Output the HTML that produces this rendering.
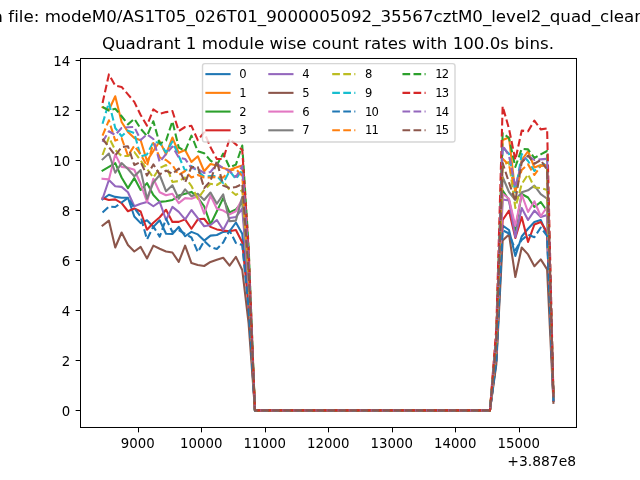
<!DOCTYPE html>
<html lang="en"><head><meta charset="utf-8"><title>Quadrant 1 module wise count rates</title>
<style>html,body{margin:0;padding:0;background:#fff;overflow:hidden}svg{display:block}text{font-variant-ligatures:none;font-kerning:none}</style>
</head><body>
<svg width="640" height="480" viewBox="0 0 460.8 345.6">
 <defs>
  <style type="text/css">*{stroke-linejoin: round; stroke-linecap: butt}</style>
 </defs>
 <g id="figure_1">
  <g id="patch_1">
   <path d="M 0 345.6 L 460.8 345.6 L 460.8 0 L 0 0 z
" style="fill: #ffffff"/>
  </g>
  <g id="axes_1">
   <g id="patch_2">
    <path d="M 57.6 307.584 L 414.72 307.584 L 414.72 41.472 L 57.6 41.472 z
" style="fill: #ffffff"/>
   </g>
   <g id="matplotlib.axis_1">
    <g id="xtick_1">
     <g id="line2d_1">
      <defs>
       <path id="mb68231066a" d="M 0 0 L 0 3.5" style="stroke: #000000; stroke-width: 0.72"/>
      </defs>
      <g>
       <use href="#mb68231066a" x="99.72" y="307.8" style="stroke: #000000; stroke-width: 0.72"/>
      </g>
     </g>
     <g id="text_1">
      <text style="font-size: 10px; font-family: 'DejaVu Sans', 'Liberation Sans', sans-serif; text-anchor: middle" x="99.1649" y="322.9024" transform="translate(99.1649 0) scale(0.96 1) translate(-99.1649 0)">9000</text>
     </g>
    </g>
    <g id="xtick_2">
     <g id="line2d_2">
      <g>
       <use href="#mb68231066a" x="145.08" y="307.8" style="stroke: #000000; stroke-width: 0.72"/>
      </g>
     </g>
     <g id="text_2">
      <text style="font-size: 10px; font-family: 'DejaVu Sans', 'Liberation Sans', sans-serif; text-anchor: middle" x="144.8909" y="322.9024" transform="translate(144.8909 0) scale(0.96 1) translate(-144.8909 0)">10000</text>
     </g>
    </g>
    <g id="xtick_3">
     <g id="line2d_3">
      <g>
       <use href="#mb68231066a" x="191.16" y="307.8" style="stroke: #000000; stroke-width: 0.72"/>
      </g>
     </g>
     <g id="text_3">
      <text style="font-size: 10px; font-family: 'DejaVu Sans', 'Liberation Sans', sans-serif; text-anchor: middle" x="190.6169" y="322.9024" transform="translate(190.6169 0) scale(0.96 1) translate(-190.6169 0)">11000</text>
     </g>
    </g>
    <g id="xtick_4">
     <g id="line2d_4">
      <g>
       <use href="#mb68231066a" x="236.52" y="307.8" style="stroke: #000000; stroke-width: 0.72"/>
      </g>
     </g>
     <g id="text_4">
      <text style="font-size: 10px; font-family: 'DejaVu Sans', 'Liberation Sans', sans-serif; text-anchor: middle" x="236.3429" y="322.9024" transform="translate(236.3429 0) scale(0.96 1) translate(-236.3429 0)">12000</text>
     </g>
    </g>
    <g id="xtick_5">
     <g id="line2d_5">
      <g>
       <use href="#mb68231066a" x="282.6" y="307.8" style="stroke: #000000; stroke-width: 0.72"/>
      </g>
     </g>
     <g id="text_5">
      <text style="font-size: 10px; font-family: 'DejaVu Sans', 'Liberation Sans', sans-serif; text-anchor: middle" x="282.0689" y="322.9024" transform="translate(282.0689 0) scale(0.96 1) translate(-282.0689 0)">13000</text>
     </g>
    </g>
    <g id="xtick_6">
     <g id="line2d_6">
      <g>
       <use href="#mb68231066a" x="327.96" y="307.8" style="stroke: #000000; stroke-width: 0.72"/>
      </g>
     </g>
     <g id="text_6">
      <text style="font-size: 10px; font-family: 'DejaVu Sans', 'Liberation Sans', sans-serif; text-anchor: middle" x="327.7949" y="322.9024" transform="translate(327.7949 0) scale(0.96 1) translate(-327.7949 0)">14000</text>
     </g>
    </g>
    <g id="xtick_7">
     <g id="line2d_7">
      <g>
       <use href="#mb68231066a" x="374.04" y="307.8" style="stroke: #000000; stroke-width: 0.72"/>
      </g>
     </g>
     <g id="text_7">
      <text style="font-size: 10px; font-family: 'DejaVu Sans', 'Liberation Sans', sans-serif; text-anchor: middle" x="373.5209" y="322.9024" transform="translate(373.5209 0) scale(0.96 1) translate(-373.5209 0)">15000</text>
     </g>
    </g>
    <g id="text_8">
     <text style="font-size: 10px; font-family: 'DejaVu Sans', 'Liberation Sans', sans-serif; text-anchor: end" x="414.72" y="335.5806">+3.887e8</text>
    </g>
   </g>
   <g id="matplotlib.axis_2">
    <g id="ytick_1">
     <g id="line2d_8">
      <defs>
       <path id="mc53986a767" d="M 0 0 L -3.5 0" style="stroke: #000000; stroke-width: 0.72"/>
      </defs>
      <g>
       <use href="#mc53986a767" x="57.96" y="295.56" style="stroke: #000000; stroke-width: 0.72"/>
      </g>
     </g>
     <g id="text_9">
      <text style="font-size: 10px; font-family: 'DejaVu Sans', 'Liberation Sans', sans-serif; text-anchor: end" x="50.6" y="299.2872" transform="translate(50.6 0) scale(0.96 1) translate(-50.6 0)">0</text>
     </g>
    </g>
    <g id="ytick_2">
     <g id="line2d_9">
      <g>
       <use href="#mc53986a767" x="57.96" y="259.56" style="stroke: #000000; stroke-width: 0.72"/>
      </g>
     </g>
     <g id="text_10">
      <text style="font-size: 10px; font-family: 'DejaVu Sans', 'Liberation Sans', sans-serif; text-anchor: end" x="50.6" y="263.2872" transform="translate(50.6 0) scale(0.96 1) translate(-50.6 0)">2</text>
     </g>
    </g>
    <g id="ytick_3">
     <g id="line2d_10">
      <g>
       <use href="#mc53986a767" x="57.96" y="223.56" style="stroke: #000000; stroke-width: 0.72"/>
      </g>
     </g>
     <g id="text_11">
      <text style="font-size: 10px; font-family: 'DejaVu Sans', 'Liberation Sans', sans-serif; text-anchor: end" x="50.6" y="227.2872" transform="translate(50.6 0) scale(0.96 1) translate(-50.6 0)">4</text>
     </g>
    </g>
    <g id="ytick_4">
     <g id="line2d_11">
      <g>
       <use href="#mc53986a767" x="57.96" y="187.56" style="stroke: #000000; stroke-width: 0.72"/>
      </g>
     </g>
     <g id="text_12">
      <text style="font-size: 10px; font-family: 'DejaVu Sans', 'Liberation Sans', sans-serif; text-anchor: end" x="50.6" y="191.2872" transform="translate(50.6 0) scale(0.96 1) translate(-50.6 0)">6</text>
     </g>
    </g>
    <g id="ytick_5">
     <g id="line2d_12">
      <g>
       <use href="#mc53986a767" x="57.96" y="151.56" style="stroke: #000000; stroke-width: 0.72"/>
      </g>
     </g>
     <g id="text_13">
      <text style="font-size: 10px; font-family: 'DejaVu Sans', 'Liberation Sans', sans-serif; text-anchor: end" x="50.6" y="155.2872" transform="translate(50.6 0) scale(0.96 1) translate(-50.6 0)">8</text>
     </g>
    </g>
    <g id="ytick_6">
     <g id="line2d_13">
      <g>
       <use href="#mc53986a767" x="57.96" y="115.56" style="stroke: #000000; stroke-width: 0.72"/>
      </g>
     </g>
     <g id="text_14">
      <text style="font-size: 10px; font-family: 'DejaVu Sans', 'Liberation Sans', sans-serif; text-anchor: end" x="50.6" y="119.2872" transform="translate(50.6 0) scale(0.96 1) translate(-50.6 0)">10</text>
     </g>
    </g>
    <g id="ytick_7">
     <g id="line2d_14">
      <g>
       <use href="#mc53986a767" x="57.96" y="79.56" style="stroke: #000000; stroke-width: 0.72"/>
      </g>
     </g>
     <g id="text_15">
      <text style="font-size: 10px; font-family: 'DejaVu Sans', 'Liberation Sans', sans-serif; text-anchor: end" x="50.6" y="83.2872" transform="translate(50.6 0) scale(0.96 1) translate(-50.6 0)">12</text>
     </g>
    </g>
    <g id="ytick_8">
     <g id="line2d_15">
      <g>
       <use href="#mc53986a767" x="57.96" y="43.56" style="stroke: #000000; stroke-width: 0.72"/>
      </g>
     </g>
     <g id="text_16">
      <text style="font-size: 10px; font-family: 'DejaVu Sans', 'Liberation Sans', sans-serif; text-anchor: end" x="50.6" y="47.2872" transform="translate(50.6 0) scale(0.96 1) translate(-50.6 0)">14</text>
     </g>
    </g>
   </g>
   <g id="line2d_16">
    <path d="M 73.832727 143.568 L 78.405327 140.22 L 82.977926 141.768 L 87.550525 142.38 L 92.123124 142.38 L 96.695723 155.88 L 101.268323 160.632 L 105.840922 158.58 L 110.413521 163.368 L 114.98612 158.58 L 119.55872 168.3 L 124.131319 168.48 L 128.703918 163.368 L 133.276517 170.1 L 137.849117 166.968 L 142.421716 168.768 L 146.994315 173.232 L 151.566914 169.632 L 156.139513 169.2 L 160.712113 166.968 L 165.284712 166.5 L 169.857311 160.2 L 174.42991 168.3 L 179.00251 216.63144 L 183.575109 295.488 L 188.147708 295.488 L 192.720307 295.488 L 197.292907 295.488 L 201.865506 295.488 L 206.438105 295.488 L 211.010704 295.488 L 215.583303 295.488 L 220.155903 295.488 L 224.728502 295.488 L 229.301101 295.488 L 233.8737 295.488 L 238.4463 295.488 L 243.018899 295.488 L 247.591498 295.488 L 252.164097 295.488 L 256.736697 295.488 L 261.309296 295.488 L 265.881895 295.488 L 270.454494 295.488 L 275.027093 295.488 L 279.599693 295.488 L 284.172292 295.488 L 288.744891 295.488 L 293.31749 295.488 L 297.89009 295.488 L 302.462689 295.488 L 307.035288 295.488 L 311.607887 295.488 L 316.180487 295.488 L 320.753086 295.488 L 325.325685 295.488 L 329.898284 295.488 L 334.470883 295.488 L 339.043483 295.488 L 343.616082 295.488 L 348.188681 295.488 L 352.76128 295.488 L 357.33388 259.56288 L 361.906479 162.432 L 366.479078 165.6 L 371.051677 184.32 L 375.624277 170.28 L 380.196876 164.7 L 384.769475 159.84 L 389.342074 158.4 L 393.914673 169.2 L 398.487273 288.668448" clip-path="url(#p99c22ce8b8)" style="fill: none; stroke: #1f77b4; stroke-width: 1.5; stroke-linecap: square"/>
   </g>
   <g id="line2d_17">
    <path d="M 73.832727 77.22 L 78.405327 79.2 L 82.977926 69.3 L 87.550525 87.84 L 92.123124 94.968 L 96.695723 99.36 L 101.268323 101.016 L 105.840922 115.92 L 110.413521 108.72 L 114.98612 101.7 L 119.55872 111.168 L 124.131319 99 L 128.703918 110.016 L 133.276517 108 L 137.849117 116.568 L 142.421716 112.5 L 146.994315 123.3 L 151.566914 118.08 L 156.139513 119.232 L 160.712113 120.96 L 165.284712 122.4 L 169.857311 120.6 L 174.42991 119.232 L 179.00251 186.20928 L 183.575109 295.488 L 188.147708 295.488 L 192.720307 295.488 L 197.292907 295.488 L 201.865506 295.488 L 206.438105 295.488 L 211.010704 295.488 L 215.583303 295.488 L 220.155903 295.488 L 224.728502 295.488 L 229.301101 295.488 L 233.8737 295.488 L 238.4463 295.488 L 243.018899 295.488 L 247.591498 295.488 L 252.164097 295.488 L 256.736697 295.488 L 261.309296 295.488 L 265.881895 295.488 L 270.454494 295.488 L 275.027093 295.488 L 279.599693 295.488 L 284.172292 295.488 L 288.744891 295.488 L 293.31749 295.488 L 297.89009 295.488 L 302.462689 295.488 L 307.035288 295.488 L 311.607887 295.488 L 316.180487 295.488 L 320.753086 295.488 L 325.325685 295.488 L 329.898284 295.488 L 334.470883 295.488 L 339.043483 295.488 L 343.616082 295.488 L 348.188681 295.488 L 352.76128 295.488 L 357.33388 242.92224 L 361.906479 100.8 L 366.479078 99 L 371.051677 138.6 L 375.624277 115.2 L 380.196876 108.9 L 384.769475 120.6 L 389.342074 118.8 L 393.914673 119.52 L 398.487273 285.985728" clip-path="url(#p99c22ce8b8)" style="fill: none; stroke: #ff7f0e; stroke-width: 1.5; stroke-linecap: square"/>
   </g>
   <g id="line2d_18">
    <path d="M 73.832727 122.832 L 78.405327 120.168 L 82.977926 117.432 L 87.550525 127.8 L 92.123124 135.432 L 96.695723 128.232 L 101.268323 136.8 L 105.840922 131.832 L 110.413521 140.4 L 114.98612 145.368 L 119.55872 144.9 L 124.131319 144 L 128.703918 140.832 L 133.276517 139.5 L 137.849117 138.168 L 142.421716 142.2 L 146.994315 148.5 L 151.566914 161.568 L 156.139513 152.1 L 160.712113 142.632 L 165.284712 153 L 169.857311 150.768 L 174.42991 145.44 L 179.00251 202.45824 L 183.575109 295.488 L 188.147708 295.488 L 192.720307 295.488 L 197.292907 295.488 L 201.865506 295.488 L 206.438105 295.488 L 211.010704 295.488 L 215.583303 295.488 L 220.155903 295.488 L 224.728502 295.488 L 229.301101 295.488 L 233.8737 295.488 L 238.4463 295.488 L 243.018899 295.488 L 247.591498 295.488 L 252.164097 295.488 L 256.736697 295.488 L 261.309296 295.488 L 265.881895 295.488 L 270.454494 295.488 L 275.027093 295.488 L 279.599693 295.488 L 284.172292 295.488 L 288.744891 295.488 L 293.31749 295.488 L 297.89009 295.488 L 302.462689 295.488 L 307.035288 295.488 L 311.607887 295.488 L 316.180487 295.488 L 320.753086 295.488 L 325.325685 295.488 L 329.898284 295.488 L 334.470883 295.488 L 339.043483 295.488 L 343.616082 295.488 L 348.188681 295.488 L 352.76128 295.488 L 357.33388 252.75888 L 361.906479 137.232 L 366.479078 144 L 371.051677 165.6 L 375.624277 139.68 L 380.196876 142.2 L 384.769475 149.04 L 389.342074 145.44 L 393.914673 151.92 L 398.487273 287.735328" clip-path="url(#p99c22ce8b8)" style="fill: none; stroke: #2ca02c; stroke-width: 1.5; stroke-linecap: square"/>
   </g>
   <g id="line2d_19">
    <path d="M 73.832727 142.632 L 78.405327 144 L 82.977926 143.568 L 87.550525 146.232 L 92.123124 152.1 L 96.695723 150.12 L 101.268323 152.28 L 105.840922 165.42 L 110.413521 160.38 L 114.98612 156.42 L 119.55872 151.02 L 124.131319 159.768 L 128.703918 159.768 L 133.276517 157.968 L 137.849117 164.7 L 142.421716 157.968 L 146.994315 157.5 L 151.566914 163.368 L 156.139513 165.168 L 160.712113 166.032 L 165.284712 166.5 L 169.857311 165.6 L 174.42991 174.6 L 179.00251 220.53744 L 183.575109 295.488 L 188.147708 295.488 L 192.720307 295.488 L 197.292907 295.488 L 201.865506 295.488 L 206.438105 295.488 L 211.010704 295.488 L 215.583303 295.488 L 220.155903 295.488 L 224.728502 295.488 L 229.301101 295.488 L 233.8737 295.488 L 238.4463 295.488 L 243.018899 295.488 L 247.591498 295.488 L 252.164097 295.488 L 256.736697 295.488 L 261.309296 295.488 L 265.881895 295.488 L 270.454494 295.488 L 275.027093 295.488 L 279.599693 295.488 L 284.172292 295.488 L 288.744891 295.488 L 293.31749 295.488 L 297.89009 295.488 L 302.462689 295.488 L 307.035288 295.488 L 311.607887 295.488 L 316.180487 295.488 L 320.753086 295.488 L 325.325685 295.488 L 329.898284 295.488 L 334.470883 295.488 L 339.043483 295.488 L 343.616082 295.488 L 348.188681 295.488 L 352.76128 295.488 L 357.33388 258.47424 L 361.906479 158.4 L 366.479078 151.632 L 371.051677 171.36 L 375.624277 156.24 L 380.196876 174.24 L 384.769475 161.64 L 389.342074 159.84 L 393.914673 167.04 L 398.487273 288.551808" clip-path="url(#p99c22ce8b8)" style="fill: none; stroke: #d62728; stroke-width: 1.5; stroke-linecap: square"/>
   </g>
   <g id="line2d_20">
    <path d="M 73.832727 143.1 L 78.405327 129.6 L 82.977926 134.1 L 87.550525 134.568 L 92.123124 138.384 L 96.695723 148.5 L 101.268323 146.7 L 105.840922 145.368 L 110.413521 148.5 L 114.98612 145.368 L 119.55872 158.4 L 124.131319 148.968 L 128.703918 152.568 L 133.276517 157.968 L 137.849117 151.2 L 142.421716 157.032 L 146.994315 162.9 L 151.566914 162 L 156.139513 158.4 L 160.712113 165.6 L 165.284712 157.032 L 169.857311 156.168 L 174.42991 150.3 L 179.00251 205.47144 L 183.575109 295.488 L 188.147708 295.488 L 192.720307 295.488 L 197.292907 295.488 L 201.865506 295.488 L 206.438105 295.488 L 211.010704 295.488 L 215.583303 295.488 L 220.155903 295.488 L 224.728502 295.488 L 229.301101 295.488 L 233.8737 295.488 L 238.4463 295.488 L 243.018899 295.488 L 247.591498 295.488 L 252.164097 295.488 L 256.736697 295.488 L 261.309296 295.488 L 265.881895 295.488 L 270.454494 295.488 L 275.027093 295.488 L 279.599693 295.488 L 284.172292 295.488 L 288.744891 295.488 L 293.31749 295.488 L 297.89009 295.488 L 302.462689 295.488 L 307.035288 295.488 L 311.607887 295.488 L 316.180487 295.488 L 320.753086 295.488 L 325.325685 295.488 L 329.898284 295.488 L 334.470883 295.488 L 339.043483 295.488 L 343.616082 295.488 L 348.188681 295.488 L 352.76128 295.488 L 357.33388 254.4696 L 361.906479 143.568 L 366.479078 144.432 L 371.051677 170.64 L 375.624277 149.76 L 380.196876 158.4 L 384.769475 151.632 L 389.342074 156.24 L 393.914673 154.8 L 398.487273 287.890848" clip-path="url(#p99c22ce8b8)" style="fill: none; stroke: #9467bd; stroke-width: 1.5; stroke-linecap: square"/>
   </g>
   <g id="line2d_21">
    <path d="M 73.832727 162.432 L 78.405327 158.832 L 82.977926 178.2 L 87.550525 167.4 L 92.123124 176.4 L 96.695723 181.08 L 101.268323 177.768 L 105.840922 186.12 L 110.413521 176.832 L 114.98612 179.1 L 119.55872 181.08 L 124.131319 181.8 L 128.703918 188.568 L 133.276517 176.832 L 137.849117 189.432 L 142.421716 190.8 L 146.994315 191.52 L 151.566914 188.568 L 156.139513 187.02 L 160.712113 185.58 L 165.284712 191.232 L 169.857311 184.968 L 174.42991 194.4 L 179.00251 232.81344 L 183.575109 295.488 L 188.147708 295.488 L 192.720307 295.488 L 197.292907 295.488 L 201.865506 295.488 L 206.438105 295.488 L 211.010704 295.488 L 215.583303 295.488 L 220.155903 295.488 L 224.728502 295.488 L 229.301101 295.488 L 233.8737 295.488 L 238.4463 295.488 L 243.018899 295.488 L 247.591498 295.488 L 252.164097 295.488 L 256.736697 295.488 L 261.309296 295.488 L 265.881895 295.488 L 270.454494 295.488 L 275.027093 295.488 L 279.599693 295.488 L 284.172292 295.488 L 288.744891 295.488 L 293.31749 295.488 L 297.89009 295.488 L 302.462689 295.488 L 307.035288 295.488 L 311.607887 295.488 L 316.180487 295.488 L 320.753086 295.488 L 325.325685 295.488 L 329.898284 295.488 L 334.470883 295.488 L 339.043483 295.488 L 343.616082 295.488 L 348.188681 295.488 L 352.76128 295.488 L 357.33388 262.47888 L 361.906479 173.232 L 366.479078 168.768 L 371.051677 199.44 L 375.624277 178.2 L 380.196876 183.168 L 384.769475 191.7 L 389.342074 186.768 L 393.914673 193.968 L 398.487273 290.00592" clip-path="url(#p99c22ce8b8)" style="fill: none; stroke: #8c564b; stroke-width: 1.5; stroke-linecap: square"/>
   </g>
   <g id="line2d_22">
    <path d="M 73.832727 128.7 L 78.405327 129.168 L 82.977926 111.168 L 87.550525 120.168 L 92.123124 120.78 L 96.695723 122.22 L 101.268323 132.3 L 105.840922 145.44 L 110.413521 128.7 L 114.98612 138.384 L 119.55872 140.616 L 124.131319 139.5 L 128.703918 146.232 L 133.276517 142.632 L 137.849117 143.1 L 142.421716 141.3 L 146.994315 153.9 L 151.566914 140.832 L 156.139513 150.3 L 160.712113 151.632 L 165.284712 154.368 L 169.857311 152.1 L 174.42991 143.1 L 179.00251 201.00744 L 183.575109 295.488 L 188.147708 295.488 L 192.720307 295.488 L 197.292907 295.488 L 201.865506 295.488 L 206.438105 295.488 L 211.010704 295.488 L 215.583303 295.488 L 220.155903 295.488 L 224.728502 295.488 L 229.301101 295.488 L 233.8737 295.488 L 238.4463 295.488 L 243.018899 295.488 L 247.591498 295.488 L 252.164097 295.488 L 256.736697 295.488 L 261.309296 295.488 L 265.881895 295.488 L 270.454494 295.488 L 275.027093 295.488 L 279.599693 295.488 L 284.172292 295.488 L 288.744891 295.488 L 293.31749 295.488 L 297.89009 295.488 L 302.462689 295.488 L 307.035288 295.488 L 311.607887 295.488 L 316.180487 295.488 L 320.753086 295.488 L 325.325685 295.488 L 329.898284 295.488 L 334.470883 295.488 L 339.043483 295.488 L 343.616082 295.488 L 348.188681 295.488 L 352.76128 295.488 L 357.33388 253.37124 L 361.906479 139.5 L 366.479078 143.1 L 371.051677 162.72 L 375.624277 139.968 L 380.196876 152.64 L 384.769475 144.9 L 389.342074 155.7 L 393.914673 149.04 L 398.487273 287.579808" clip-path="url(#p99c22ce8b8)" style="fill: none; stroke: #e377c2; stroke-width: 1.5; stroke-linecap: square"/>
   </g>
   <g id="line2d_23">
    <path d="M 73.832727 114.768 L 78.405327 110.52 L 82.977926 124.38 L 87.550525 117.432 L 92.123124 121.68 L 96.695723 126.9 L 101.268323 122.4 L 105.840922 143.1 L 110.413521 131.4 L 114.98612 126 L 119.55872 137.7 L 124.131319 133.38 L 128.703918 143.1 L 133.276517 136.368 L 137.849117 141.3 L 142.421716 139.5 L 146.994315 144 L 151.566914 138.6 L 156.139513 146.7 L 160.712113 139.968 L 165.284712 159.3 L 169.857311 158.832 L 174.42991 141.768 L 179.00251 200.1816 L 183.575109 295.488 L 188.147708 295.488 L 192.720307 295.488 L 197.292907 295.488 L 201.865506 295.488 L 206.438105 295.488 L 211.010704 295.488 L 215.583303 295.488 L 220.155903 295.488 L 224.728502 295.488 L 229.301101 295.488 L 233.8737 295.488 L 238.4463 295.488 L 243.018899 295.488 L 247.591498 295.488 L 252.164097 295.488 L 256.736697 295.488 L 261.309296 295.488 L 265.881895 295.488 L 270.454494 295.488 L 275.027093 295.488 L 279.599693 295.488 L 284.172292 295.488 L 288.744891 295.488 L 293.31749 295.488 L 297.89009 295.488 L 302.462689 295.488 L 307.035288 295.488 L 311.607887 295.488 L 316.180487 295.488 L 320.753086 295.488 L 325.325685 295.488 L 329.898284 295.488 L 334.470883 295.488 L 339.043483 295.488 L 343.616082 295.488 L 348.188681 295.488 L 352.76128 295.488 L 357.33388 250.11504 L 361.906479 127.44 L 366.479078 138.24 L 371.051677 144 L 375.624277 138.456 L 380.196876 137.016 L 384.769475 133.632 L 389.342074 139.824 L 393.914673 143.1 L 398.487273 287.259048" clip-path="url(#p99c22ce8b8)" style="fill: none; stroke: #7f7f7f; stroke-width: 1.5; stroke-linecap: square"/>
   </g>
   <g id="line2d_24">
    <path d="M 73.832727 111.6 L 78.405327 99 L 82.977926 108 L 87.550525 112.32 L 92.123124 112.32 L 96.695723 109.44 L 101.268323 115.632 L 105.840922 121.68 L 110.413521 127.8 L 114.98612 120.96 L 119.55872 118.8 L 124.131319 131.04 L 128.703918 130.32 L 133.276517 127.8 L 137.849117 133.92 L 142.421716 143.1 L 146.994315 136.8 L 151.566914 132.3 L 156.139513 133.2 L 160.712113 130.32 L 165.284712 136.8 L 169.857311 140.4 L 174.42991 136.8 L 179.00251 197.10144 L 183.575109 295.488 L 188.147708 295.488 L 192.720307 295.488 L 197.292907 295.488 L 201.865506 295.488 L 206.438105 295.488 L 211.010704 295.488 L 215.583303 295.488 L 220.155903 295.488 L 224.728502 295.488 L 229.301101 295.488 L 233.8737 295.488 L 238.4463 295.488 L 243.018899 295.488 L 247.591498 295.488 L 252.164097 295.488 L 256.736697 295.488 L 261.309296 295.488 L 265.881895 295.488 L 270.454494 295.488 L 275.027093 295.488 L 279.599693 295.488 L 284.172292 295.488 L 288.744891 295.488 L 293.31749 295.488 L 297.89009 295.488 L 302.462689 295.488 L 307.035288 295.488 L 311.607887 295.488 L 316.180487 295.488 L 320.753086 295.488 L 325.325685 295.488 L 329.898284 295.488 L 334.470883 295.488 L 339.043483 295.488 L 343.616082 295.488 L 348.188681 295.488 L 352.76128 295.488 L 357.33388 247.78224 L 361.906479 118.8 L 366.479078 116.64 L 371.051677 149.76 L 375.624277 132.48 L 380.196876 125.568 L 384.769475 135 L 389.342074 135.36 L 393.914673 136.8 L 398.487273 286.918848" clip-path="url(#p99c22ce8b8)" style="fill: none; stroke-dasharray: 5.55,2.4; stroke-dashoffset: 0; stroke: #bcbd22; stroke-width: 1.5"/>
   </g>
   <g id="line2d_25">
    <path d="M 73.832727 89.1 L 78.405327 73.8 L 82.977926 92.16 L 87.550525 98.1 L 92.123124 94.032 L 96.695723 95.76 L 101.268323 112.68 L 105.840922 111.168 L 110.413521 102.24 L 114.98612 102.6 L 119.55872 109.8 L 124.131319 101.952 L 128.703918 112.32 L 133.276517 122.976 L 137.849117 119.52 L 142.421716 123.48 L 146.994315 127.08 L 151.566914 126.72 L 156.139513 126.72 L 160.712113 131.76 L 165.284712 123.12 L 169.857311 128.88 L 174.42991 122.4 L 179.00251 188.17344 L 183.575109 295.488 L 188.147708 295.488 L 192.720307 295.488 L 197.292907 295.488 L 201.865506 295.488 L 206.438105 295.488 L 211.010704 295.488 L 215.583303 295.488 L 220.155903 295.488 L 224.728502 295.488 L 229.301101 295.488 L 233.8737 295.488 L 238.4463 295.488 L 243.018899 295.488 L 247.591498 295.488 L 252.164097 295.488 L 256.736697 295.488 L 261.309296 295.488 L 265.881895 295.488 L 270.454494 295.488 L 275.027093 295.488 L 279.599693 295.488 L 284.172292 295.488 L 288.744891 295.488 L 293.31749 295.488 L 297.89009 295.488 L 302.462689 295.488 L 307.035288 295.488 L 311.607887 295.488 L 316.180487 295.488 L 320.753086 295.488 L 325.325685 295.488 L 329.898284 295.488 L 334.470883 295.488 L 339.043483 295.488 L 343.616082 295.488 L 348.188681 295.488 L 352.76128 295.488 L 357.33388 244.38024 L 361.906479 106.2 L 366.479078 110.7 L 371.051677 138.24 L 375.624277 110.88 L 380.196876 115.92 L 384.769475 123.12 L 389.342074 119.52 L 393.914673 117.36 L 398.487273 285.869088" clip-path="url(#p99c22ce8b8)" style="fill: none; stroke-dasharray: 5.55,2.4; stroke-dashoffset: 0; stroke: #17becf; stroke-width: 1.5"/>
   </g>
   <g id="line2d_26">
    <path d="M 73.832727 153 L 78.405327 148.752 L 82.977926 149.04 L 87.550525 145.8 L 92.123124 142.56 L 96.695723 149.76 L 101.268323 155.88 L 105.840922 172.368 L 110.413521 163.08 L 114.98612 170.424 L 119.55872 157.5 L 124.131319 167.04 L 128.703918 165.6 L 133.276517 168.48 L 137.849117 171 L 142.421716 181.44 L 146.994315 173.52 L 151.566914 177.84 L 156.139513 179.28 L 160.712113 174.6 L 165.284712 166.032 L 169.857311 174.96 L 174.42991 176.4 L 179.00251 221.65344 L 183.575109 295.488 L 188.147708 295.488 L 192.720307 295.488 L 197.292907 295.488 L 201.865506 295.488 L 206.438105 295.488 L 211.010704 295.488 L 215.583303 295.488 L 220.155903 295.488 L 224.728502 295.488 L 229.301101 295.488 L 233.8737 295.488 L 238.4463 295.488 L 243.018899 295.488 L 247.591498 295.488 L 252.164097 295.488 L 256.736697 295.488 L 261.309296 295.488 L 265.881895 295.488 L 270.454494 295.488 L 275.027093 295.488 L 279.599693 295.488 L 284.172292 295.488 L 288.744891 295.488 L 293.31749 295.488 L 297.89009 295.488 L 302.462689 295.488 L 307.035288 295.488 L 311.607887 295.488 L 316.180487 295.488 L 320.753086 295.488 L 325.325685 295.488 L 329.898284 295.488 L 334.470883 295.488 L 339.043483 295.488 L 343.616082 295.488 L 348.188681 295.488 L 352.76128 295.488 L 357.33388 260.47656 L 361.906479 165.816 L 366.479078 168.12 L 371.051677 180 L 375.624277 172.8 L 380.196876 168.984 L 384.769475 170.784 L 389.342074 163.8 L 393.914673 169.92 L 398.487273 288.707328" clip-path="url(#p99c22ce8b8)" style="fill: none; stroke-dasharray: 5.55,2.4; stroke-dashoffset: 0; stroke: #1f77b4; stroke-width: 1.5"/>
   </g>
   <g id="line2d_27">
    <path d="M 73.832727 97.632 L 78.405327 86.616 L 82.977926 101.232 L 87.550525 99.504 L 92.123124 111.96 L 96.695723 104.976 L 101.268323 111.168 L 105.840922 119.52 L 110.413521 102.96 L 114.98612 113.4 L 119.55872 115.2 L 124.131319 118.8 L 128.703918 126 L 133.276517 123.12 L 137.849117 127.8 L 142.421716 126 L 146.994315 127.8 L 151.566914 127.8 L 156.139513 127.44 L 160.712113 127.8 L 165.284712 122.832 L 169.857311 121.68 L 174.42991 126.72 L 179.00251 190.85184 L 183.575109 295.488 L 188.147708 295.488 L 192.720307 295.488 L 197.292907 295.488 L 201.865506 295.488 L 206.438105 295.488 L 211.010704 295.488 L 215.583303 295.488 L 220.155903 295.488 L 224.728502 295.488 L 229.301101 295.488 L 233.8737 295.488 L 238.4463 295.488 L 243.018899 295.488 L 247.591498 295.488 L 252.164097 295.488 L 256.736697 295.488 L 261.309296 295.488 L 265.881895 295.488 L 270.454494 295.488 L 275.027093 295.488 L 279.599693 295.488 L 284.172292 295.488 L 288.744891 295.488 L 293.31749 295.488 L 297.89009 295.488 L 302.462689 295.488 L 307.035288 295.488 L 311.607887 295.488 L 316.180487 295.488 L 320.753086 295.488 L 325.325685 295.488 L 329.898284 295.488 L 334.470883 295.488 L 339.043483 295.488 L 343.616082 295.488 L 348.188681 295.488 L 352.76128 295.488 L 357.33388 246.56724 L 361.906479 114.3 L 366.479078 118.8 L 371.051677 137.52 L 375.624277 122.4 L 380.196876 118.368 L 384.769475 126 L 389.342074 119.52 L 393.914673 118.8 L 398.487273 285.946848" clip-path="url(#p99c22ce8b8)" style="fill: none; stroke-dasharray: 5.55,2.4; stroke-dashoffset: 0; stroke: #ff7f0e; stroke-width: 1.5"/>
   </g>
   <g id="line2d_28">
    <path d="M 73.832727 76.968 L 78.405327 79.632 L 82.977926 78.3 L 87.550525 83.7 L 92.123124 89.568 L 96.695723 85.5 L 101.268323 92.7 L 105.840922 97.92 L 110.413521 87.3 L 114.98612 103.5 L 119.55872 101.232 L 124.131319 87.3 L 128.703918 106.2 L 133.276517 108.72 L 137.849117 97.632 L 142.421716 108.9 L 146.994315 110.376 L 151.566914 115.632 L 156.139513 118.8 L 160.712113 110.592 L 165.284712 120.528 L 169.857311 118.512 L 174.42991 104.76 L 179.00251 177.23664 L 183.575109 295.488 L 188.147708 295.488 L 192.720307 295.488 L 197.292907 295.488 L 201.865506 295.488 L 206.438105 295.488 L 211.010704 295.488 L 215.583303 295.488 L 220.155903 295.488 L 224.728502 295.488 L 229.301101 295.488 L 233.8737 295.488 L 238.4463 295.488 L 243.018899 295.488 L 247.591498 295.488 L 252.164097 295.488 L 256.736697 295.488 L 261.309296 295.488 L 265.881895 295.488 L 270.454494 295.488 L 275.027093 295.488 L 279.599693 295.488 L 284.172292 295.488 L 288.744891 295.488 L 293.31749 295.488 L 297.89009 295.488 L 302.462689 295.488 L 307.035288 295.488 L 311.607887 295.488 L 316.180487 295.488 L 320.753086 295.488 L 325.325685 295.488 L 329.898284 295.488 L 334.470883 295.488 L 339.043483 295.488 L 343.616082 295.488 L 348.188681 295.488 L 352.76128 295.488 L 357.33388 241.56144 L 361.906479 95.76 L 366.479078 99.36 L 371.051677 120.24 L 375.624277 107.1 L 380.196876 107.568 L 384.769475 113.76 L 389.342074 111.168 L 393.914673 108.72 L 398.487273 285.402528" clip-path="url(#p99c22ce8b8)" style="fill: none; stroke-dasharray: 5.55,2.4; stroke-dashoffset: 0; stroke: #2ca02c; stroke-width: 1.5"/>
   </g>
   <g id="line2d_29">
    <path d="M 73.832727 74.16 L 78.405327 53.568 L 82.977926 61.632 L 87.550525 62.568 L 92.123124 67.968 L 96.695723 73.368 L 101.268323 82.8 L 105.840922 90.432 L 110.413521 78.768 L 114.98612 81.9 L 119.55872 80.712 L 124.131319 79.92 L 128.703918 94.32 L 133.276517 91.44 L 137.849117 90.576 L 142.421716 100.944 L 146.994315 95.256 L 151.566914 106.056 L 156.139513 114.48 L 160.712113 114.48 L 165.284712 100.008 L 169.857311 103.968 L 174.42991 108 L 179.00251 179.24544 L 183.575109 295.488 L 188.147708 295.488 L 192.720307 295.488 L 197.292907 295.488 L 201.865506 295.488 L 206.438105 295.488 L 211.010704 295.488 L 215.583303 295.488 L 220.155903 295.488 L 224.728502 295.488 L 229.301101 295.488 L 233.8737 295.488 L 238.4463 295.488 L 243.018899 295.488 L 247.591498 295.488 L 252.164097 295.488 L 256.736697 295.488 L 261.309296 295.488 L 265.881895 295.488 L 270.454494 295.488 L 275.027093 295.488 L 279.599693 295.488 L 284.172292 295.488 L 288.744891 295.488 L 293.31749 295.488 L 297.89009 295.488 L 302.462689 295.488 L 307.035288 295.488 L 311.607887 295.488 L 316.180487 295.488 L 320.753086 295.488 L 325.325685 295.488 L 329.898284 295.488 L 334.470883 295.488 L 339.043483 295.488 L 343.616082 295.488 L 348.188681 295.488 L 352.76128 295.488 L 357.33388 236.36124 L 361.906479 76.5 L 366.479078 92.7 L 371.051677 115.2 L 375.624277 94.032 L 380.196876 94.5 L 384.769475 86.832 L 389.342074 93.168 L 393.914673 92.52 L 398.487273 284.527728" clip-path="url(#p99c22ce8b8)" style="fill: none; stroke-dasharray: 5.55,2.4; stroke-dashoffset: 0; stroke: #d62728; stroke-width: 1.5"/>
   </g>
   <g id="line2d_30">
    <path d="M 73.832727 102.168 L 78.405327 94.5 L 82.977926 97.2 L 87.550525 92.16 L 92.123124 91.62 L 96.695723 91.368 L 101.268323 100.8 L 105.840922 96.768 L 110.413521 100.08 L 114.98612 116.64 L 119.55872 110.88 L 124.131319 105.48 L 128.703918 113.4 L 133.276517 114.408 L 137.849117 120.96 L 142.421716 121.68 L 146.994315 124.56 L 151.566914 123.84 L 156.139513 118.08 L 160.712113 120.96 L 165.284712 123.12 L 169.857311 127.44 L 174.42991 119.52 L 179.00251 186.38784 L 183.575109 295.488 L 188.147708 295.488 L 192.720307 295.488 L 197.292907 295.488 L 201.865506 295.488 L 206.438105 295.488 L 211.010704 295.488 L 215.583303 295.488 L 220.155903 295.488 L 224.728502 295.488 L 229.301101 295.488 L 233.8737 295.488 L 238.4463 295.488 L 243.018899 295.488 L 247.591498 295.488 L 252.164097 295.488 L 256.736697 295.488 L 261.309296 295.488 L 265.881895 295.488 L 270.454494 295.488 L 275.027093 295.488 L 279.599693 295.488 L 284.172292 295.488 L 288.744891 295.488 L 293.31749 295.488 L 297.89009 295.488 L 302.462689 295.488 L 307.035288 295.488 L 311.607887 295.488 L 316.180487 295.488 L 320.753086 295.488 L 325.325685 295.488 L 329.898284 295.488 L 334.470883 295.488 L 339.043483 295.488 L 343.616082 295.488 L 348.188681 295.488 L 352.76128 295.488 L 357.33388 244.01088 L 361.906479 104.832 L 366.479078 112.032 L 371.051677 134.64 L 375.624277 116.64 L 380.196876 112.032 L 384.769475 115.2 L 389.342074 114.768 L 393.914673 114.3 L 398.487273 285.703848" clip-path="url(#p99c22ce8b8)" style="fill: none; stroke-dasharray: 5.55,2.4; stroke-dashoffset: 0; stroke: #9467bd; stroke-width: 1.5"/>
   </g>
   <g id="line2d_31">
    <path d="M 73.832727 99.9 L 78.405327 105.84 L 82.977926 112.032 L 87.550525 105.84 L 92.123124 105.3 L 96.695723 118.8 L 101.268323 116.64 L 105.840922 126.432 L 110.413521 118.368 L 114.98612 125.568 L 119.55872 122.832 L 124.131319 125.1 L 128.703918 121.32 L 133.276517 131.4 L 137.849117 120.24 L 142.421716 120.24 L 146.994315 135.36 L 151.566914 130.32 L 156.139513 115.92 L 160.712113 133.632 L 165.284712 135.36 L 169.857311 134.64 L 174.42991 132.48 L 179.00251 194.42304 L 183.575109 295.488 L 188.147708 295.488 L 192.720307 295.488 L 197.292907 295.488 L 201.865506 295.488 L 206.438105 295.488 L 211.010704 295.488 L 215.583303 295.488 L 220.155903 295.488 L 224.728502 295.488 L 229.301101 295.488 L 233.8737 295.488 L 238.4463 295.488 L 243.018899 295.488 L 247.591498 295.488 L 252.164097 295.488 L 256.736697 295.488 L 261.309296 295.488 L 265.881895 295.488 L 270.454494 295.488 L 275.027093 295.488 L 279.599693 295.488 L 284.172292 295.488 L 288.744891 295.488 L 293.31749 295.488 L 297.89009 295.488 L 302.462689 295.488 L 307.035288 295.488 L 311.607887 295.488 L 316.180487 295.488 L 320.753086 295.488 L 325.325685 295.488 L 329.898284 295.488 L 334.470883 295.488 L 339.043483 295.488 L 343.616082 295.488 L 348.188681 295.488 L 352.76128 295.488 L 357.33388 247.39344 L 361.906479 117.36 L 366.479078 131.4 L 371.051677 144.72 L 375.624277 117 L 380.196876 112.032 L 384.769475 117.9 L 389.342074 115.2 L 393.914673 122.4 L 398.487273 286.141248" clip-path="url(#p99c22ce8b8)" style="fill: none; stroke-dasharray: 5.55,2.4; stroke-dashoffset: 0; stroke: #8c564b; stroke-width: 1.5"/>
   </g>
   <g id="patch_3">
    <path d="M 57.96 307.8 L 57.96 42.12" style="fill: none; stroke: #000000; stroke-width: 0.72; stroke-linejoin: miter; stroke-linecap: square"/>
   </g>
   <g id="patch_4">
    <path d="M 415.08 307.8 L 415.08 42.12" style="fill: none; stroke: #000000; stroke-width: 0.72; stroke-linejoin: miter; stroke-linecap: square"/>
   </g>
   <g id="patch_5">
    <path d="M 57.96 307.8 L 415.08 307.8" style="fill: none; stroke: #000000; stroke-width: 0.72; stroke-linejoin: miter; stroke-linecap: square"/>
   </g>
   <g id="patch_6">
    <path d="M 57.96 42.12 L 415.08 42.12" style="fill: none; stroke: #000000; stroke-width: 0.72; stroke-linejoin: miter; stroke-linecap: square"/>
   </g>
   <g id="text_17">
    <text style="font-size: 12px; font-family: 'DejaVu Sans', 'Liberation Sans', sans-serif; text-anchor: middle" x="236.16" y="35.472">Quadrant 1 module wise count rates with 100.0s bins.</text>
   </g>
   <g id="legend_1">
<g id="patch_7"><path d="M 147.466 102.24 L 325.934 102.24 Q 327.6 102.24 327.6 100.574 L 327.6 47.458 Q 327.6 45.792 325.934 45.792 L 147.466 45.792 Q 145.8 45.792 145.8 47.458 L 145.8 100.574 Q 145.8 102.24 147.466 102.24 z" style="fill: #ffffff; opacity: 0.8; stroke: #cccccc; stroke-linejoin: miter"/></g>
<g transform="translate(0 0.612)">
    <g id="line2d_32">
     <path d="M 148.622113 52.757848 L 156.952113 52.757848 L 165.282113 52.757848" style="fill: none; stroke: #1f77b4; stroke-width: 1.5; stroke-linecap: square"/>
    </g>
    <g id="text_18">
     <text style="font-size: 8.33px; font-family: 'DejaVu Sans', 'Liberation Sans', sans-serif; text-anchor: start" x="172.3061" y="55.6733">0</text>
    </g>
    <g id="line2d_33">
     <path d="M 148.622113 66.242557 L 156.952113 66.242557 L 165.282113 66.242557" style="fill: none; stroke: #ff7f0e; stroke-width: 1.5; stroke-linecap: square"/>
    </g>
    <g id="text_19">
     <text style="font-size: 8.33px; font-family: 'DejaVu Sans', 'Liberation Sans', sans-serif; text-anchor: start" x="172.3061" y="69.1581">1</text>
    </g>
    <g id="line2d_34">
     <path d="M 148.622113 79.727265 L 156.952113 79.727265 L 165.282113 79.727265" style="fill: none; stroke: #2ca02c; stroke-width: 1.5; stroke-linecap: square"/>
    </g>
    <g id="text_20">
     <text style="font-size: 8.33px; font-family: 'DejaVu Sans', 'Liberation Sans', sans-serif; text-anchor: start" x="172.3061" y="82.6428">2</text>
    </g>
    <g id="line2d_35">
     <path d="M 148.622113 93.211973 L 156.952113 93.211973 L 165.282113 93.211973" style="fill: none; stroke: #d62728; stroke-width: 1.5; stroke-linecap: square"/>
    </g>
    <g id="text_21">
     <text style="font-size: 8.33px; font-family: 'DejaVu Sans', 'Liberation Sans', sans-serif; text-anchor: start" x="172.3061" y="96.1275">3</text>
    </g>
    <g id="line2d_36">
     <path d="M 193.906075 52.757848 L 202.236075 52.757848 L 210.566075 52.757848" style="fill: none; stroke: #9467bd; stroke-width: 1.5; stroke-linecap: square"/>
    </g>
    <g id="text_22">
     <text style="font-size: 8.33px; font-family: 'DejaVu Sans', 'Liberation Sans', sans-serif; text-anchor: start" x="217.5901" y="55.6733">4</text>
    </g>
    <g id="line2d_37">
     <path d="M 193.906075 66.242557 L 202.236075 66.242557 L 210.566075 66.242557" style="fill: none; stroke: #8c564b; stroke-width: 1.5; stroke-linecap: square"/>
    </g>
    <g id="text_23">
     <text style="font-size: 8.33px; font-family: 'DejaVu Sans', 'Liberation Sans', sans-serif; text-anchor: start" x="217.5901" y="69.1581">5</text>
    </g>
    <g id="line2d_38">
     <path d="M 193.906075 79.727265 L 202.236075 79.727265 L 210.566075 79.727265" style="fill: none; stroke: #e377c2; stroke-width: 1.5; stroke-linecap: square"/>
    </g>
    <g id="text_24">
     <text style="font-size: 8.33px; font-family: 'DejaVu Sans', 'Liberation Sans', sans-serif; text-anchor: start" x="217.5901" y="82.6428">6</text>
    </g>
    <g id="line2d_39">
     <path d="M 193.906075 93.211973 L 202.236075 93.211973 L 210.566075 93.211973" style="fill: none; stroke: #7f7f7f; stroke-width: 1.5; stroke-linecap: square"/>
    </g>
    <g id="text_25">
     <text style="font-size: 8.33px; font-family: 'DejaVu Sans', 'Liberation Sans', sans-serif; text-anchor: start" x="217.5901" y="96.1275">7</text>
    </g>
    <g id="line2d_40">
     <path d="M 239.190038 52.757848 L 247.520038 52.757848 L 255.850038 52.757848" style="fill: none; stroke-dasharray: 5.55,2.4; stroke-dashoffset: 0; stroke: #bcbd22; stroke-width: 1.5"/>
    </g>
    <g id="text_26">
     <text style="font-size: 8.33px; font-family: 'DejaVu Sans', 'Liberation Sans', sans-serif; text-anchor: start" x="262.874" y="55.6733">8</text>
    </g>
    <g id="line2d_41">
     <path d="M 239.190038 66.242557 L 247.520038 66.242557 L 255.850038 66.242557" style="fill: none; stroke-dasharray: 5.55,2.4; stroke-dashoffset: 0; stroke: #17becf; stroke-width: 1.5"/>
    </g>
    <g id="text_27">
     <text style="font-size: 8.33px; font-family: 'DejaVu Sans', 'Liberation Sans', sans-serif; text-anchor: start" x="262.874" y="69.1581">9</text>
    </g>
    <g id="line2d_42">
     <path d="M 239.190038 79.727265 L 247.520038 79.727265 L 255.850038 79.727265" style="fill: none; stroke-dasharray: 5.55,2.4; stroke-dashoffset: 0; stroke: #1f77b4; stroke-width: 1.5"/>
    </g>
    <g id="text_28">
     <text style="font-size: 8.33px; font-family: 'DejaVu Sans', 'Liberation Sans', sans-serif; text-anchor: start; letter-spacing: -0.648px" x="262.874" y="82.6428">10</text>
    </g>
    <g id="line2d_43">
     <path d="M 239.190038 93.211973 L 247.520038 93.211973 L 255.850038 93.211973" style="fill: none; stroke-dasharray: 5.55,2.4; stroke-dashoffset: 0; stroke: #ff7f0e; stroke-width: 1.5"/>
    </g>
    <g id="text_29">
     <text style="font-size: 8.33px; font-family: 'DejaVu Sans', 'Liberation Sans', sans-serif; text-anchor: start; letter-spacing: -0.648px" x="262.874" y="96.1275">11</text>
    </g>
    <g id="line2d_44">
     <path d="M 289.773963 52.757848 L 298.103963 52.757848 L 306.433963 52.757848" style="fill: none; stroke-dasharray: 5.55,2.4; stroke-dashoffset: 0; stroke: #2ca02c; stroke-width: 1.5"/>
    </g>
    <g id="text_30">
     <text style="font-size: 8.33px; font-family: 'DejaVu Sans', 'Liberation Sans', sans-serif; text-anchor: start; letter-spacing: -0.648px" x="313.458" y="55.6733">12</text>
    </g>
    <g id="line2d_45">
     <path d="M 289.773963 66.242557 L 298.103963 66.242557 L 306.433963 66.242557" style="fill: none; stroke-dasharray: 5.55,2.4; stroke-dashoffset: 0; stroke: #d62728; stroke-width: 1.5"/>
    </g>
    <g id="text_31">
     <text style="font-size: 8.33px; font-family: 'DejaVu Sans', 'Liberation Sans', sans-serif; text-anchor: start; letter-spacing: -0.648px" x="313.458" y="69.1581">13</text>
    </g>
    <g id="line2d_46">
     <path d="M 289.773963 79.727265 L 298.103963 79.727265 L 306.433963 79.727265" style="fill: none; stroke-dasharray: 5.55,2.4; stroke-dashoffset: 0; stroke: #9467bd; stroke-width: 1.5"/>
    </g>
    <g id="text_32">
     <text style="font-size: 8.33px; font-family: 'DejaVu Sans', 'Liberation Sans', sans-serif; text-anchor: start; letter-spacing: -0.648px" x="313.458" y="82.6428">14</text>
    </g>
    <g id="line2d_47">
     <path d="M 289.773963 93.211973 L 298.103963 93.211973 L 306.433963 93.211973" style="fill: none; stroke-dasharray: 5.55,2.4; stroke-dashoffset: 0; stroke: #8c564b; stroke-width: 1.5"/>
    </g>
    <g id="text_33">
     <text style="font-size: 8.33px; font-family: 'DejaVu Sans', 'Liberation Sans', sans-serif; text-anchor: start; letter-spacing: -0.648px" x="313.458" y="96.1275">15</text>
    </g>
</g>
   </g>
  </g>
  <g id="text_34">
   <text style="font-size: 12px; font-family: 'DejaVu Sans', 'Liberation Sans', sans-serif; text-anchor: middle" x="230.4" y="16.0301">Data file: modeM0/AS1T05_026T01_9000005092_35567cztM0_level2_quad_clean.evt</text>
  </g>
 </g>
 <defs>
  <clipPath id="p99c22ce8b8">
   <rect x="57.6" y="41.472" width="357.12" height="266.112"/>
  </clipPath>
 </defs>
</svg>

</body></html>
